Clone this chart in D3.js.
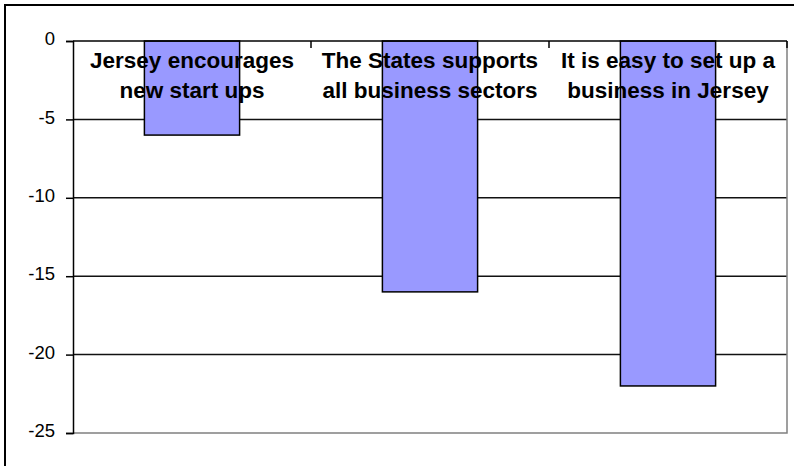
<!DOCTYPE html>
<html>
<head>
<meta charset="utf-8">
<script src="https://cdn.jsdelivr.net/npm/d3@7"></script>
<style>
  html, body { margin: 0; padding: 0; background: #fff; }
  svg { display: block; }
</style>
</head>
<body>
<svg id="chart" width="794" height="466"></svg>
<script>
// Survey statements (two text lines each) and their net scores
const categories = ["Jersey encourages new start ups", "The States supports all business sectors", "It is easy to set up a business in Jersey"];
const labelLines = [
  ["Jersey encourages", "new start ups"],
  ["The States supports", "all business sectors"],
  ["It is easy to set up a", "business in Jersey"]
];
const values = [-6, -16, -22];
const yTicks = [0, -5, -10, -15, -20, -25];

const svg = d3.select("#chart");
const W = 794, H = 466;
const plot = { left: 73, right: 787, top: 41, bottom: 433 };

// Outer chart frame (runs past the right and bottom edges)
svg.append("rect")
  .attr("x", 5).attr("y", 5)
  .attr("width", W + 20).attr("height", H + 20)
  .attr("fill", "#fff")
  .attr("stroke", "#000").attr("stroke-width", 2);

const x = d3.scaleBand()
  .domain(categories)
  .range([plot.left, plot.right])
  .paddingInner(0.6)
  .paddingOuter(0.3);

const y = d3.scaleLinear()
  .domain([-25, 0])
  .range([plot.bottom, plot.top]);

// Horizontal gridlines
svg.append("g")
  .selectAll("line")
  .data(yTicks.filter(d => d !== 0 && d !== -25))
  .join("line")
  .attr("x1", plot.left).attr("x2", plot.right)
  .attr("y1", d => y(d)).attr("y2", d => y(d))
  .attr("stroke", "#111").attr("stroke-width", 1.5);

// Plot area right and bottom border
svg.append("path")
  .attr("d", `M${plot.right},${plot.top}V${plot.bottom}H${plot.left}`)
  .attr("fill", "none")
  .attr("stroke", "#808080").attr("stroke-width", 1.5);

// Bars hanging from zero
svg.append("g")
  .selectAll("rect")
  .data(values)
  .join("rect")
  .attr("x", (d, i) => x(categories[i]))
  .attr("width", x.bandwidth())
  .attr("y", d => y(Math.max(0, d)))
  .attr("height", d => Math.abs(y(d) - y(0)))
  .attr("fill", "#9999FF")
  .attr("stroke", "#000").attr("stroke-width", 1.5);

// Value axis (plain hyphen for negatives)
const yAxis = svg.append("g")
  .attr("transform", `translate(${plot.left},0)`)
  .call(d3.axisLeft(y).tickValues(yTicks).tickSize(7).tickPadding(11).tickFormat(d => String(d)));
yAxis.select(".domain").attr("stroke", "#000").attr("stroke-width", 1.5);
yAxis.selectAll(".tick line").attr("stroke", "#000").attr("stroke-width", 1.5);
yAxis.selectAll(".tick text")
  .attr("font-family", "'Liberation Sans', Arial, sans-serif")
  .attr("font-size", 18.5)
  .attr("fill", "#000")
  .attr("dy", "0.2em");

// Category axis along the zero line, ticks between categories
const step = x.step();
const catTicks = d3.range(categories.length + 1).map(i => plot.left + i * step);
svg.append("line")
  .attr("x1", plot.left).attr("x2", plot.right)
  .attr("y1", y(0)).attr("y2", y(0))
  .attr("stroke", "#000").attr("stroke-width", 1.5);
svg.append("g")
  .selectAll("line")
  .data(catTicks.slice(1))
  .join("line")
  .attr("x1", d => d).attr("x2", d => d)
  .attr("y1", y(0)).attr("y2", y(0) + 7)
  .attr("stroke", "#000").attr("stroke-width", 1.5);

// Category labels over the bars
const lbl = svg.append("g")
  .selectAll("text")
  .data(categories)
  .join("text")
  .attr("x", d => x(d) + x.bandwidth() / 2)
  .attr("y", 68)
  .attr("text-anchor", "middle")
  .attr("font-family", "'Liberation Sans', Arial, sans-serif")
  .attr("font-weight", "bold")
  .attr("font-size", 22.5)
  .attr("fill", "#000");
lbl.selectAll("tspan")
  .data((d, i) => labelLines[i])
  .join("tspan")
  .attr("x", function () { return d3.select(this.parentNode).attr("x"); })
  .attr("dy", (d, j) => j === 0 ? 0 : 30)
  .text(d => d);
</script>
</body>
</html>
